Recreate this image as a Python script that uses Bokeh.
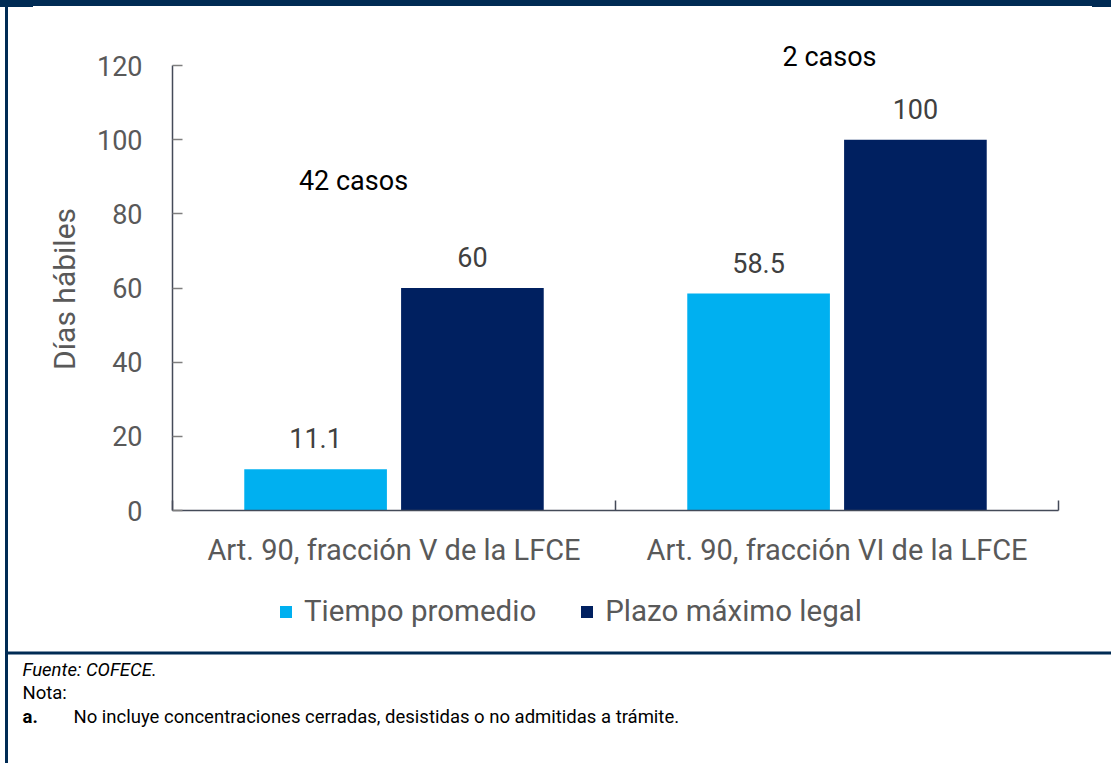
from bokeh.plotting import figure
from bokeh.layouts import column
from bokeh.models import (ColumnDataSource, FixedTicker, Legend, LegendItem, Label,
                          BoxAnnotation, Range1d)
from bokeh.transform import dodge
from bokeh.core.properties import value
from bokeh.embed import file_html
from bokeh.resources import INLINE

# ---- data ----
categories = ["Art. 90, fracción V de la LFCE", "Art. 90, fracción VI de la LFCE"]
tiempo_promedio = [11.1, 58.5]
plazo_maximo = [60, 100]
casos = ["42 casos", "2 casos"]
series_names = ["Tiempo promedio", "Plazo máximo legal"]
y_ticks = [0, 20, 40, 60, 80, 100, 120]
y_title = "Días hábiles"
fuente = "Fuente: COFECE."
nota = "Nota:"
nota_a = "No incluye concentraciones cerradas, desistidas o no admitidas a trámite."

FONT = "Roboto"
GRAY = "#595959"
NAVY = "#002b54"
LIGHT = "#00b0f0"
DARK = "#002060"
AXIS = "#444a58"

W = 1111
H1 = 590
H2 = 173

# pixel layout of the chart frame
X0, UNIT_X = 172, 443.0
Y0, UNIT_Y = 510, 445.0 / 120.0

def dx(px):
    return (px - X0) / UNIT_X

def dy(py):
    return (Y0 - py) / UNIT_Y

xc = [i + 0.5 for i in range(len(categories))]
src = ColumnDataSource(dict(
    x=xc,
    tp=tiempo_promedio,
    pm=plazo_maximo,
    tp_lbl=[f"{v:g}" for v in tiempo_promedio],
    pm_lbl=[f"{v:g}" for v in plazo_maximo],
))

STRIPE = "linear-gradient(#002b54,#002b54) 5px 0 / 3px 100% no-repeat"

p = figure(width=W, height=H1, output_backend="svg", toolbar_location=None,
           x_range=Range1d(0, dx(W)), y_range=Range1d(0, dy(0)),
           min_border_left=X0, min_border_right=0, min_border_top=0,
           min_border_bottom=H1 - Y0)
p.outline_line_color = None
p.xgrid.visible = False
p.ygrid.visible = False
p.background_fill_color = None
p.border_fill_color = None
p.styles = {
    "background": ("linear-gradient(#002b54,#002b54) 0 0 / 33px 7px no-repeat, "
                   "linear-gradient(#002b54,#002b54) 100% 0 / 19px 7px no-repeat, "
                   "linear-gradient(#002b54,#002b54) 0 0 / 100% 6px no-repeat, "
                   + STRIPE + ", #ffffff"),
}

off = 0.177
bw = 0.322
r1 = p.vbar(x=dodge("x", -off), top="tp", width=bw, source=src,
            fill_color=LIGHT, line_color=None)
r2 = p.vbar(x=dodge("x", off), top="pm", width=bw, source=src,
            fill_color=DARK, line_color=None)

for col, lbl, o in (("tp", "tp_lbl", -off), ("pm", "pm_lbl", off)):
    p.text(x=dodge("x", o), y=col, text=lbl, source=src, text_align="center",
           text_baseline="alphabetic", y_offset=-31, text_font=value(FONT),
           text_font_size="27px", text_color="#404040")

# ---- axes ----
yax = p.yaxis[0]
yax.ticker = FixedTicker(ticks=y_ticks)
yax.bounds = (0, 120)
yax.major_tick_in = 10
yax.major_tick_out = 0
yax.minor_tick_line_color = None
yax.axis_line_color = AXIS
yax.axis_line_width = 1.5
yax.major_tick_line_color = "#7f7f7f"
yax.major_tick_line_width = 1.5
yax.major_label_text_font = FONT
yax.major_label_text_font_size = "27px"
yax.major_label_text_color = GRAY
yax.major_label_standoff = 30
# trailing no-break spaces centre the title on the 0-120 part of the axis
yax.axis_label = y_title + "\u00a0" * 9
yax.axis_label_text_font = FONT
yax.axis_label_text_font_size = "30px"
yax.axis_label_text_font_style = "normal"
yax.axis_label_text_color = GRAY
yax.axis_label_standoff = 12

xax = p.xaxis[0]
xax.ticker = FixedTicker(ticks=xc, minor_ticks=list(range(len(categories) + 1)))
xax.bounds = (0, len(categories))
xax.major_label_overrides = {v: c for v, c in zip(xc, categories)}
xax.major_tick_line_color = None
xax.major_tick_in = 0
xax.major_tick_out = 0
xax.minor_tick_in = 10
xax.minor_tick_out = 0
xax.minor_tick_line_color = AXIS
xax.minor_tick_line_width = 1.5
xax.axis_line_color = AXIS
xax.axis_line_width = 1.5
xax.major_label_text_font = FONT
xax.major_label_text_font_size = "29px"
xax.major_label_text_color = GRAY
xax.major_label_standoff = 22

p.add_layout(Label(x=dx(353), y=dy(180), text=casos[0], text_align="center",
                   text_baseline="middle", text_font=FONT, text_font_size="27px",
                   text_color="black"))
p.add_layout(Label(x=dx(829), y=dy(56), text=casos[1], text_align="center",
                   text_baseline="middle", text_font=FONT, text_font_size="27px",
                   text_color="black"))

# ---- lower panel: legend, separator, notes ----
q = figure(width=W, height=H2, output_backend="svg", toolbar_location=None,
           x_range=Range1d(0, W), y_range=Range1d(H2, 0),
           min_border=0, min_border_left=0, min_border_right=0,
           min_border_top=0, min_border_bottom=0)
q.axis.visible = False
q.grid.visible = False
q.outline_line_color = None
q.background_fill_color = None
q.border_fill_color = None
q.styles = {"background": STRIPE + ", #ffffff"}

for fig in (p, q):
    if "frame_align" in fig.properties():
        fig.frame_align = False

nan = float("nan")
d1 = q.vbar(x=[nan], top=[nan], width=1, fill_color=LIGHT, line_color=None)
d2 = q.vbar(x=[nan], top=[nan], width=1, fill_color=DARK, line_color=None)
legend = Legend(items=[LegendItem(label=series_names[0], renderers=[d1]),
                       LegendItem(label=series_names[1], renderers=[d2])],
                orientation="horizontal", location=(278, H2 - 23 - 15),
                glyph_width=15, glyph_height=15, label_standoff=11, spacing=43,
                padding=0, margin=0, border_line_color=None,
                background_fill_alpha=0,
                label_text_font=FONT, label_text_font_size="29.5px",
                label_text_color=GRAY)
q.add_layout(legend, "center")

q.add_layout(BoxAnnotation(left=5, right=W, top=651 - H1, bottom=654 - H1,
                           fill_color=NAVY, fill_alpha=1, line_color=None))

NOTE_SIZE = "18.5px"
q.add_layout(Label(x=22, y=669 - H1, text=fuente, text_align="left",
                   text_baseline="middle", text_font=FONT, text_font_size=NOTE_SIZE,
                   text_font_style="italic", text_color="black"))
q.add_layout(Label(x=22, y=692 - H1, text=nota, text_align="left",
                   text_baseline="middle", text_font=FONT, text_font_size=NOTE_SIZE,
                   text_color="black"))
q.add_layout(Label(x=22, y=716 - H1, text="a.", text_align="left",
                   text_baseline="middle", text_font=FONT, text_font_size=NOTE_SIZE,
                   text_font_style="bold", text_color="black"))
q.add_layout(Label(x=73, y=716 - H1, text=nota_a, text_align="left",
                   text_baseline="middle", text_font=FONT, text_font_size=NOTE_SIZE,
                   text_color="black"))

layout = column(p, q, spacing=0)
open("out.html", "w").write(file_html(layout, INLINE))
